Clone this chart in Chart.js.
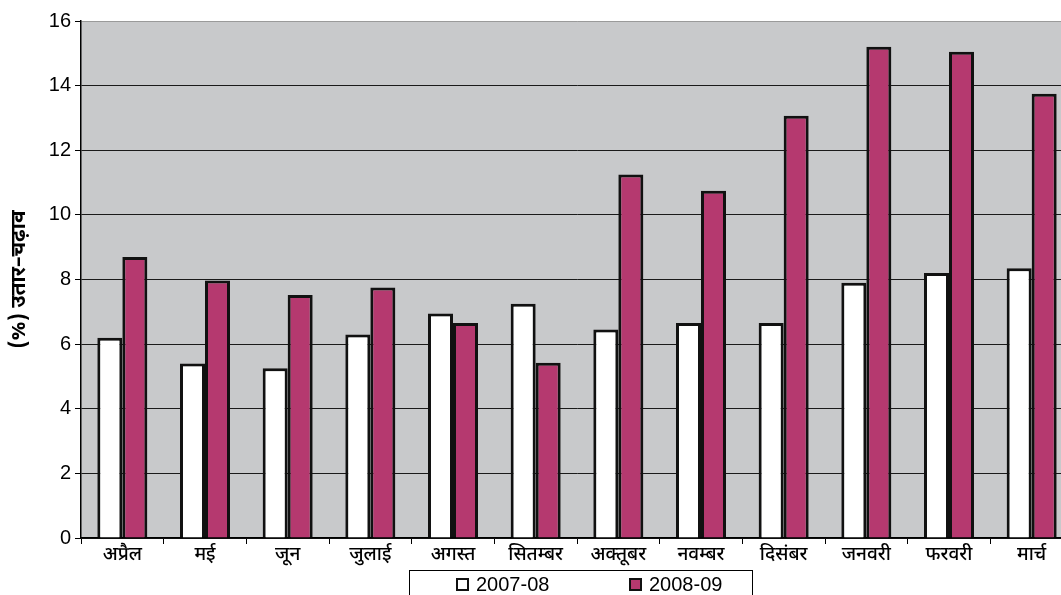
<!DOCTYPE html>
<html>
<head>
<meta charset="utf-8">
<script src="https://cdn.jsdelivr.net/npm/chart.js@4/dist/chart.umd.min.js"></script>
<style>
  html, body { margin: 0; padding: 0; background: #fff; overflow: hidden; }
  #wrap { width: 1075px; height: 595px; }
</style>
</head>
<body>
<div id="wrap"><canvas id="c" width="1075" height="595"></canvas></div>
<script>
// Months of the fiscal year (April–March)
const months = ['अप्रैल', 'मई', 'जून', 'जुलाई', 'अगस्त', 'सितम्बर', 'अक्तूबर', 'नवम्बर', 'दिसंबर', 'जनवरी', 'फरवरी', 'मार्च'];

// Monthly fluctuation (%) for each year
const series2007 = [6.2, 5.4, 5.25, 6.3, 6.95, 7.25, 6.45, 6.65, 6.65, 7.9, 8.2, 8.35];
const series2008 = [8.7, 7.97, 7.52, 7.75, 6.65, 5.42, 11.25, 10.75, 13.07, 15.2, 15.05, 13.75];

const seriesLabels = ['2007-08', '2008-09'];
const yTicks = [0, 2, 4, 6, 8, 10, 12, 14, 16];
const yTitle = '(%) उतार–चढ़ाव';

const LATIN = '"Liberation Sans", Arial, sans-serif';
const DEVA = '"Noto Sans Devanagari", "Lohit Devanagari", "Noto Sans", sans-serif';

// Grey plotting area behind the grid
const plotBackground = {
  id: 'plotBackground',
  beforeDraw(chart) {
    const { ctx, chartArea: a } = chart;
    ctx.save();
    ctx.fillStyle = '#c8c9cb';
    ctx.fillRect(a.left, a.top, a.right - a.left, a.bottom - a.top);
    ctx.restore();
  }
};

// Framed legend under the category labels
const boxedLegend = {
  id: 'boxedLegend',
  afterDraw(chart) {
    const { ctx } = chart;
    ctx.save();
    ctx.strokeStyle = '#000';
    ctx.lineWidth = 1;
    ctx.strokeRect(409.5, 570.5, 343, 40);
    const items = [
      { x: 456, tx: 476 },
      { x: 629, tx: 649 }
    ];
    ctx.font = '20px ' + LATIN;
    ctx.textBaseline = 'middle';
    ctx.fillStyle = '#000';
    chart.data.datasets.forEach((ds, i) => {
      const it = items[i];
      ctx.fillStyle = ds.backgroundColor;
      ctx.fillRect(it.x, 578, 13, 13);
      ctx.lineWidth = 2;
      ctx.strokeStyle = '#111';
      ctx.strokeRect(it.x + 1, 579, 11, 11);
      ctx.fillStyle = '#000';
      ctx.fillText(ds.label, it.tx, 585);
    });
    ctx.restore();
  }
};

new Chart(document.getElementById('c'), {
  type: 'bar',
  data: {
    labels: months,
    datasets: [
      {
        label: seriesLabels[0],
        data: series2007,
        backgroundColor: '#ffffff',
        borderColor: '#111111',
        borderWidth: 3
      },
      {
        label: seriesLabels[1],
        data: series2008,
        backgroundColor: '#b5396f',
        borderColor: '#111111',
        borderWidth: 3
      }
    ]
  },
  options: {
    responsive: false,
    animation: false,
    events: [],
    layout: { padding: { top: 21, right: 2, left: 0, bottom: 0 } },
    categoryPercentage: 0.605,
    barPercentage: 1.0,
    plugins: {
      legend: { display: false },
      tooltip: { enabled: false }
    },
    scales: {
      x: {
        grid: {
          display: true,
          drawOnChartArea: false,
          drawTicks: true,
          tickLength: 6,
          tickColor: '#000',
          offset: true
        },
        border: { display: true, color: '#000', width: 1.5 },
        ticks: {
          color: '#000',
          padding: 1,
          maxRotation: 0,
          autoSkip: false,
          font: { family: DEVA, size: 19, weight: '500' }
        },
        afterFit(scale) { scale.height = 57; }
      },
      y: {
        min: 0,
        max: 16,
        afterBuildTicks(scale) { scale.ticks = yTicks.map(v => ({ value: v })); },
        grid: {
          color: (c) => (c.tick && c.tick.value === 16 ? '#9a9a9a' : '#1a1a1a'),
          lineWidth: 1,
          tickLength: 6,
          tickColor: '#000'
        },
        border: { display: true, color: '#000', width: 1.5 },
        ticks: {
          color: '#000',
          padding: 4,
          font: { family: LATIN, size: 20 }
        },
        title: {
          display: true,
          text: yTitle,
          color: '#000',
          padding: { top: 8, bottom: 0 },
          font: { family: DEVA, size: 21, weight: 'bold' }
        },
        afterFit(scale) { scale.width = 81; }
      }
    }
  },
  plugins: [plotBackground, boxedLegend]
});
</script>
</body>
</html>
